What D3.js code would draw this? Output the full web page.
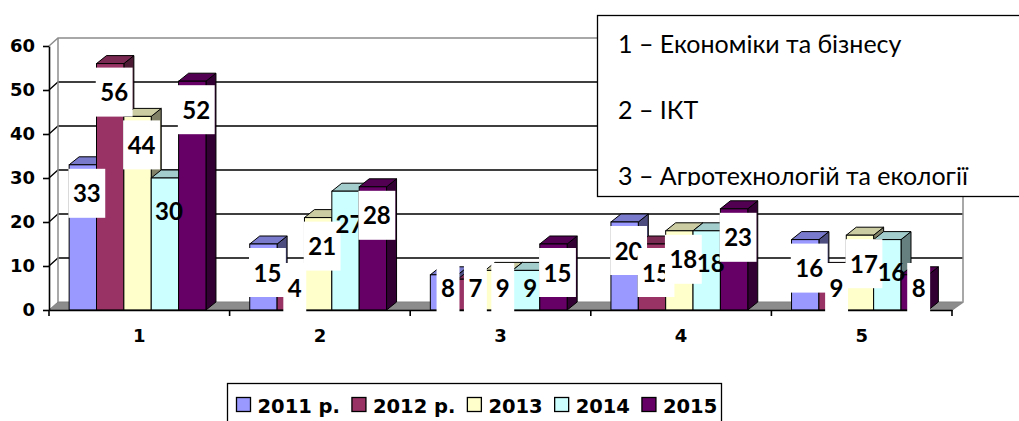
<!DOCTYPE html>
<html>
<head>
<meta charset="utf-8">
<script src="https://cdn.jsdelivr.net/npm/d3@7"></script>
<style>
  body { margin: 0; background: #fff; }
  svg { display: block; }
</style>
</head>
<body>
<div id="chart"></div>
<script>
const categories = ["1", "2", "3", "4", "5"];
const series = ["2011 р.", "2012 р.", "2013", "2014", "2015"];
const values2011 = [33, 15, 8, 20, 16];
const values2012 = [56, 4, 7, 15, 9];
const values2013 = [44, 21, 9, 18, 17];
const values2014 = [30, 27, 9, 18, 16];
const values2015 = [52, 28, 15, 23, 8];
const yTicks = [0, 10, 20, 30, 40, 50, 60];
const notes = ["1 – Економіки та бізнесу", "2 – ІКТ", "3 – Агротехнологій та екології"];

const allValues = [values2011, values2012, values2013, values2014, values2015];
const colors = ["#9999ff", "#993366", "#ffffcc", "#ccffff", "#660066"];

const W = 1019, H = 421;
const wall = {dx: 9, dy: 8};   // depth of the back wall
const depth = {dx: 10, dy: 8}; // depth of each bar

const svg = d3.select("#chart").append("svg")
  .attr("width", W)
  .attr("height", H);

svg.append("rect").attr("width", W).attr("height", H).attr("fill", "#fff");

const y = d3.scaleLinear().domain([0, 60]).range([310, 46]);
const x0 = d3.scaleBand().domain(categories).range([49, 952]);
const x1 = d3.scaleBand().domain(series).range([0, x0.bandwidth()])
  .paddingOuter(0.8).align(0.46);

const left = x0.range()[0], right = x0.range()[1];

// floor
svg.append("path")
  .attr("d", `M${left},${y(0)}L${right},${y(0)}L${right + wall.dx + 1},${y(0) - wall.dy}L${left + wall.dx},${y(0) - wall.dy}Z`)
  .attr("fill", "#8c8c8c")
  .attr("stroke", "#808080");

// back wall gridlines
yTicks.filter(d => d > 0).forEach(v => {
  const yy = y(v);
  svg.append("path")
    .attr("d", `M${left},${yy}L${left + wall.dx},${yy - wall.dy}L${right + wall.dx + 2},${yy - wall.dy}`)
    .attr("fill", "none")
    .attr("stroke", v === 60 ? "#8c8c8c" : "#000")
    .attr("stroke-width", v === 60 ? 1.5 : 1.3);
});

// wall edges
svg.append("path")
  .attr("d", `M${left + wall.dx},${y(60) - wall.dy}L${left + wall.dx},${y(0) - wall.dy}`)
  .attr("stroke", "#8c8c8c").attr("stroke-width", 1.5);
svg.append("path")
  .attr("d", `M${right + wall.dx + 2},${y(60) - wall.dy}L${right + wall.dx + 2},${y(0) - wall.dy}L${right},${y(0)}`)
  .attr("fill", "none").attr("stroke", "#8c8c8c").attr("stroke-width", 1.5);

// bars, left to right so the next front face hides the previous side
const bars = svg.append("g");
categories.forEach((c, i) => {
  series.forEach((s, j) => {
    const v = allValues[j][i];
    const bx = x0(c) + x1(s), bw = x1.bandwidth();
    const yt = y(v), yb = y(0);
    const base = d3.rgb(colors[j]);
    const topC = d3.rgb(base.r * 0.8, base.g * 0.8, base.b * 0.8);
    const sideC = d3.rgb(base.r * 0.5, base.g * 0.5, base.b * 0.5);
    bars.append("path")
      .attr("d", `M${bx + bw},${yt}L${bx + bw + depth.dx},${yt - depth.dy}L${bx + bw + depth.dx},${yb - depth.dy}L${bx + bw},${yb}Z`)
      .attr("fill", sideC).attr("stroke", "#000").attr("stroke-width", 1);
    bars.append("path")
      .attr("d", `M${bx},${yt}L${bx + bw},${yt}L${bx + bw + depth.dx},${yt - depth.dy}L${bx + depth.dx},${yt - depth.dy}Z`)
      .attr("fill", topC).attr("stroke", "#000").attr("stroke-width", 1);
    bars.append("rect")
      .attr("x", bx).attr("y", yt)
      .attr("width", bw).attr("height", yb - yt)
      .attr("fill", base).attr("stroke", "#000").attr("stroke-width", 1);
  });
});

// axes
const yAxis = svg.append("g")
  .attr("transform", `translate(${left},0)`)
  .call(d3.axisLeft(y).tickValues(yTicks).tickSize(6).tickPadding(8).tickSizeOuter(0));
yAxis.select(".domain").attr("stroke-width", 1.6);
yAxis.selectAll(".tick line").attr("stroke-width", 1.6);
yAxis.selectAll("text")
  .attr("font-family", "DejaVu Sans")
  .attr("font-weight", "bold")
  .attr("font-size", 18)
  .attr("fill", "#000");

const xAxis = svg.append("g")
  .attr("transform", `translate(0,${y(0)})`)
  .call(d3.axisBottom(x0).tickSize(0).tickPadding(19));
xAxis.select(".domain").attr("stroke-width", 1.6);
xAxis.selectAll("text")
  .attr("font-family", "DejaVu Sans")
  .attr("font-weight", "bold")
  .attr("font-size", 18)
  .attr("fill", "#000");
xAxis.selectAll(".bound")
  .data(categories.map(c => x0(c)).concat([right]))
  .join("line")
  .attr("x1", d => d).attr("x2", d => d)
  .attr("y1", 0).attr("y2", 6)
  .attr("stroke", "#000").attr("stroke-width", 1.6);

// data labels
const labels = svg.append("g")
  .attr("font-family", "Lato")
  .attr("font-weight", "bold")
  .attr("font-size", 24);
series.forEach((s, j) => {
  categories.forEach((c, i) => {
    const v = allValues[j][i];
    const cx = x0(c) + x1(s) + x1.bandwidth() / 2 + 4;
    const boxed = j !== 3;
    const cy = Math.min(y(v) + (boxed ? 28 : 32), 287);
    const g = labels.append("g");
    const t = g.append("text")
      .attr("x", cx).attr("y", cy)
      .attr("text-anchor", "middle")
      .attr("dominant-baseline", "central")
      .text(v);
    if (boxed) {
      const tw = t.node().getComputedTextLength() + 9;
      g.insert("rect", "text")
        .attr("x", cx - tw / 2).attr("y", cy - 24)
        .attr("width", tw).attr("height", 49)
        .attr("fill", "#fff");
    }
  });
});

// notes box
svg.append("clipPath").attr("id", "noteClip")
  .append("rect").attr("x", 597).attr("y", 15).attr("width", 430).attr("height", 171);
svg.append("rect")
  .attr("x", 597.5).attr("y", 15.5)
  .attr("width", 440).attr("height", 181)
  .attr("fill", "#fff").attr("stroke", "#000").attr("stroke-width", 1.3);
svg.append("g")
  .attr("clip-path", "url(#noteClip)")
  .selectAll("text")
  .data(notes)
  .join("text")
  .attr("x", 618)
  .attr("y", (d, i) => 53 + i * 66)
  .attr("font-family", "Lato")
  .attr("font-size", 25)
  .attr("fill", "#000")
  .text(d => d);

// legend
svg.append("rect")
  .attr("x", 227.5).attr("y", 383.5)
  .attr("width", 494).attr("height", 60)
  .attr("fill", "#fff").attr("stroke", "#000").attr("stroke-width", 1.3);
const legend = svg.append("g");
let lx = 236.5;
series.forEach((s, j) => {
  legend.append("rect")
    .attr("x", lx).attr("y", 397.5)
    .attr("width", 14).attr("height", 14)
    .attr("fill", colors[j]).attr("stroke", "#000").attr("stroke-width", 1.3);
  const t = legend.append("text")
    .attr("x", lx + 21).attr("y", 412.5)
    .attr("font-family", "DejaVu Sans")
    .attr("font-weight", "bold")
    .attr("font-size", 19.5)
    .attr("fill", "#000")
    .text(s);
  lx += 21 + t.node().getComputedTextLength() + 12;
});
</script>
</body>
</html>
